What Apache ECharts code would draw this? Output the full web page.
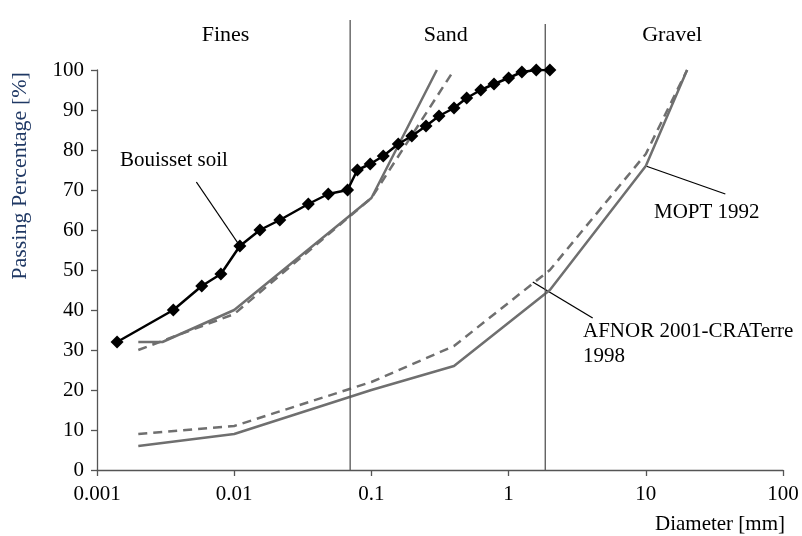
<!DOCTYPE html>
<html>
<head>
<meta charset="utf-8">
<script src="https://cdn.jsdelivr.net/npm/echarts@6/dist/echarts.min.js"></script>
<style>
  html, body { margin: 0; padding: 0; background: #fff; }
  #chart { width: 802px; height: 536px; }
</style>
</head>
<body>
<div id="chart"></div>
<script>
// Grain-size distribution: measured soil curve plus recommended envelopes
const xTickLabels = ['0.001', '0.01', '0.1', '1', '10', '100'];
const yTicks = [0, 10, 20, 30, 40, 50, 60, 70, 80, 90, 100];

// Bouisset soil (diameter mm, passing %)
const bouissetDiam = [0.0014, 0.0036, 0.0058, 0.008, 0.011, 0.0154, 0.0215, 0.0347, 0.0485, 0.067, 0.079, 0.098, 0.122, 0.157, 0.197, 0.25, 0.311, 0.40, 0.495, 0.627, 0.783, 1.0, 1.25, 1.59, 2.0];
const bouissetPass = [32, 40, 46, 49, 56, 60, 62.5, 66.5, 69, 70, 75, 76.5, 78.5, 81.5, 83.5, 86, 88.5, 90.5, 93, 95, 96.5, 98, 99.5, 100, 100];

// MOPT 1992 limits (solid)
const moptUpperDiam = [0.002, 0.003, 0.01, 0.1, 0.3];
const moptUpperPass = [32, 32, 40, 68, 100];
const moptLowerDiam = [0.002, 0.01, 0.1, 0.4, 2, 10, 20];
const moptLowerPass = [6, 9, 20, 26, 45, 76, 100];

// AFNOR 2001 - CRATerre 1998 limits (dashed)
const afnorUpperDiam = [0.002, 0.01, 0.1, 0.4];
const afnorUpperPass = [30, 39, 68, 100];
const afnorLowerDiam = [0.002, 0.01, 0.1, 0.4, 2, 10, 20];
const afnorLowerPass = [9, 11, 22, 31, 50, 79, 100];

// Fraction boundaries (mm)
const fractionBounds = [0.07, 1.85];
const fractionNames = ['Fines', 'Sand', 'Gravel'];

// Annotation leader lines (data coordinates)
const bouissetLeader = [[0.0053, 72], [0.011, 56]];
const moptLeader = [[10, 76], [38, 69]];
const afnorLeader = [[1.5, 47], [4.1, 38]];

const zip = (a, b) => a.map((v, i) => [v, b[i]]);
const FONT = '"Liberation Serif", "Times New Roman", serif';
const GRAY = '#6f6f6f';

const chart = echarts.init(document.getElementById('chart'), null, { renderer: 'canvas' });

function limitSeries(d, p, dashed) {
  return {
    type: 'line', data: zip(d, p), symbol: 'none', z: 2,
    lineStyle: { color: GRAY, width: 2.5, type: dashed ? [9, 6] : 'solid' },
    silent: true
  };
}
function leaderSeries(pts) {
  return {
    type: 'line', data: pts, symbol: 'none', z: 1, silent: true,
    lineStyle: { color: '#000', width: 1.3 }
  };
}

chart.setOption({
  animation: false,
  backgroundColor: '#fff',
  grid: { left: 97, right: 19, top: 70, bottom: 66 },
  xAxis: {
    type: 'log', logBase: 10, min: 0.001, max: 100,
    axisLine: { lineStyle: { color: '#555', width: 1.3 } },
    axisTick: { inside: false, length: 6, lineStyle: { color: '#555', width: 1.3 } },
    minorTick: { show: false },
    splitLine: { show: false },
    axisLabel: {
      margin: 14, color: '#000', fontFamily: FONT, fontSize: 21,
      formatter: v => xTickLabels[Math.round(Math.log10(v)) + 3]
    }
  },
  yAxis: {
    type: 'value', min: 0, max: 100, interval: 10,
    axisLine: { show: true, lineStyle: { color: '#555', width: 1.3 } },
    axisTick: { show: true, inside: false, length: 6, lineStyle: { color: '#555', width: 1.3 } },
    splitLine: { show: false },
    axisLabel: {
      margin: 13, color: '#000', fontFamily: FONT, fontSize: 21,
      formatter: v => (yTicks.indexOf(v) >= 0 ? String(v) : '')
    }
  },
  series: [
    limitSeries(moptUpperDiam, moptUpperPass, false),
    limitSeries(afnorUpperDiam, afnorUpperPass, true),
    limitSeries(moptLowerDiam, moptLowerPass, false),
    limitSeries(afnorLowerDiam, afnorLowerPass, true),
    leaderSeries(bouissetLeader),
    leaderSeries(moptLeader),
    leaderSeries(afnorLeader),
    {
      type: 'line', data: zip(bouissetDiam, bouissetPass), z: 5,
      symbol: 'diamond', symbolSize: 13,
      itemStyle: { color: '#000' },
      lineStyle: { color: '#000', width: 2.5 },
      silent: true
    }
  ]
});

// Fraction boundary lines, extended above the plot for the fraction names
const yBottom = chart.convertToPixel({ gridIndex: 0 }, [1, 0])[1];
const boundX = fractionBounds.map(d => chart.convertToPixel({ gridIndex: 0 }, [d, 0])[0]);
const xLeft = chart.convertToPixel({ gridIndex: 0 }, [0.001, 0])[0];
const xRight = chart.convertToPixel({ gridIndex: 0 }, [100, 0])[0];
const nameCenters = [(xLeft + boundX[0]) / 2 + 2, (boundX[0] + boundX[1]) / 2 - 2, (boundX[1] + xRight) / 2 + 8];

function label(text, x, y, size, align, extra) {
  return Object.assign({
    type: 'text', x: x, y: y, z: 10,
    style: { text: text, fill: '#000', font: size + 'px ' + FONT, textAlign: align || 'left', textVerticalAlign: 'middle' }
  }, extra || {});
}

const graphics = [];
boundX.forEach((bx, i) => {
  graphics.push({
    type: 'line', z: 3,
    shape: { x1: bx, y1: i === 0 ? 20 : 24, x2: bx, y2: yBottom },
    style: { stroke: '#555', lineWidth: 1.3 }
  });
});
fractionNames.forEach((n, i) => graphics.push(label(n, nameCenters[i], 35, 22, 'center')));
graphics.push(label('Bouisset soil', 120, 160, 21));
graphics.push(label('MOPT 1992', 654, 212, 21));
graphics.push(label('AFNOR 2001-CRATerre', 583, 331, 21));
graphics.push(label('1998', 583, 356, 21));
graphics.push(label('Diameter [mm]', 785, 524, 21, 'right'));
const yTitle = label('Passing Percentage [%]', 20, 176, 22, 'center', { rotation: Math.PI / 2 });
yTitle.style.fill = '#1f3864';
graphics.push(yTitle);

chart.setOption({ graphic: graphics });
</script>
</body>
</html>
